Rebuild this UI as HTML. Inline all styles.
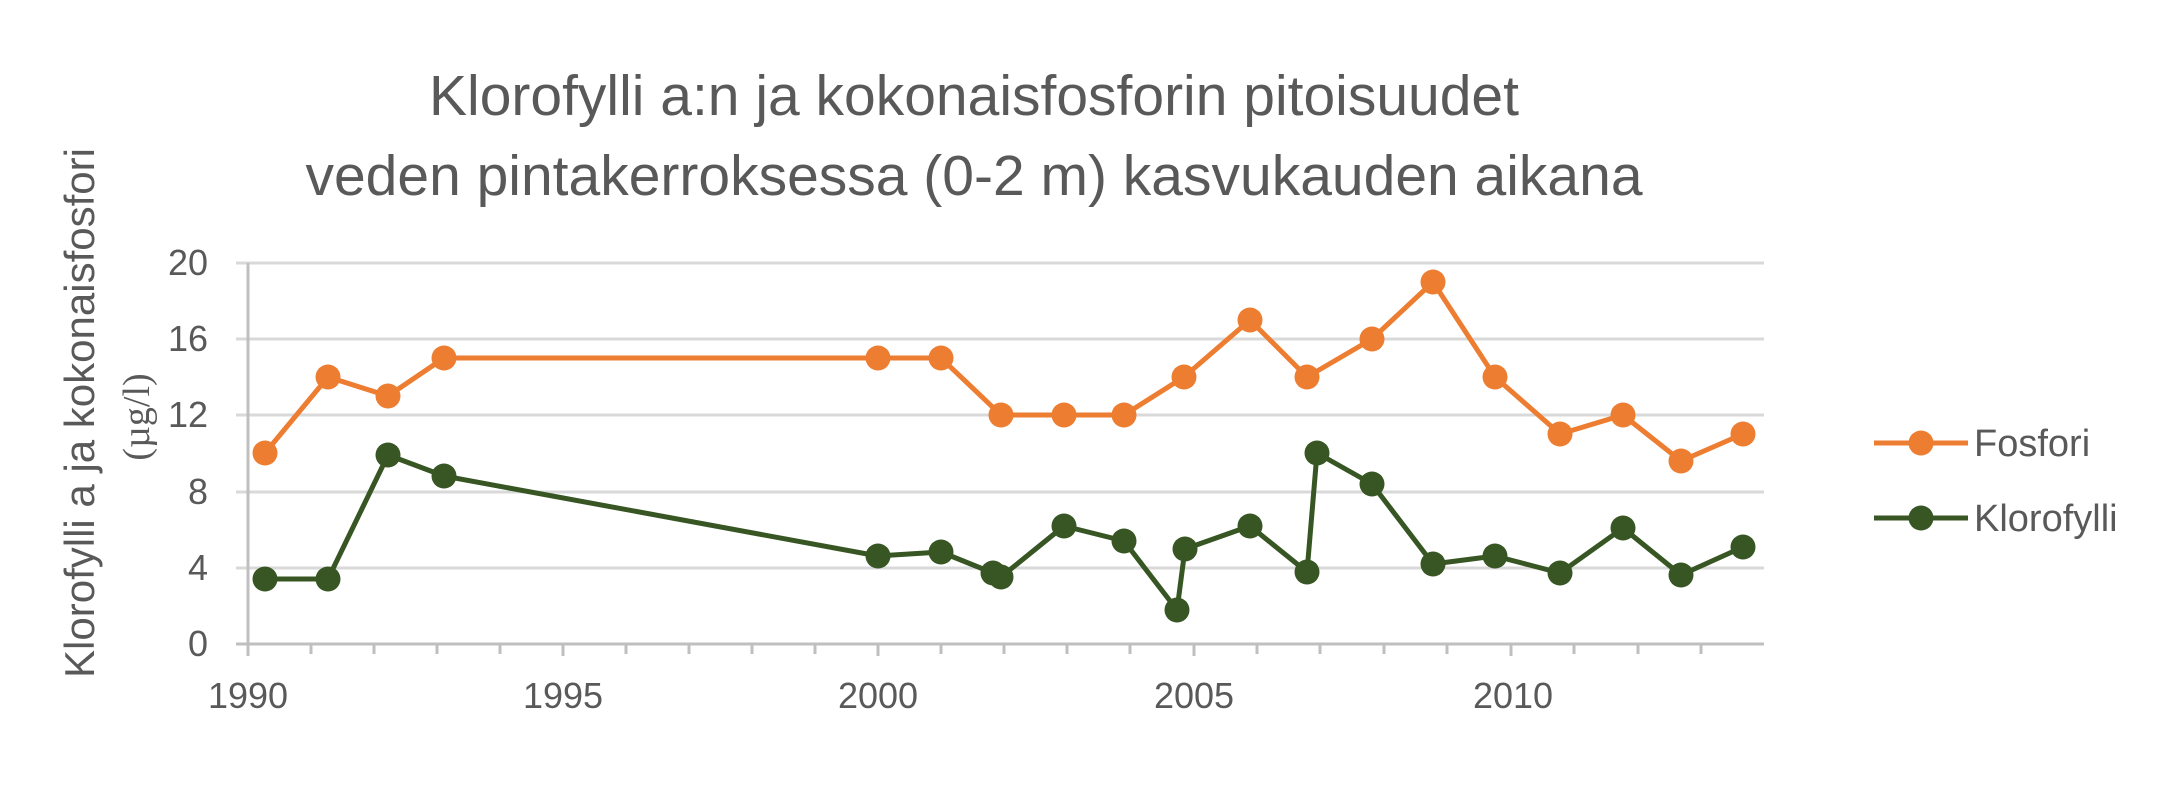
<!DOCTYPE html>
<html><head><meta charset="utf-8"><style>
html,body{margin:0;padding:0;background:#fff;}
svg{display:block;}
text{font-family:"Liberation Sans",sans-serif;fill:#595959;}
</style></head><body>
<svg width="2181" height="794" viewBox="0 0 2181 794" xmlns="http://www.w3.org/2000/svg">
<text x="974" y="115" font-size="57" text-anchor="middle">Klorofylli a:n ja kokonaisfosforin pitoisuudet</text>
<text x="974" y="195" font-size="57" text-anchor="middle">veden pintakerroksessa (0-2 m) kasvukauden aikana</text>
<g stroke="#d9d9d9" stroke-width="3">
<line x1="236" y1="263" x2="1764" y2="263"/>
<line x1="236" y1="339" x2="1764" y2="339"/>
<line x1="236" y1="415" x2="1764" y2="415"/>
<line x1="236" y1="492" x2="1764" y2="492"/>
<line x1="236" y1="568" x2="1764" y2="568"/>
</g>
<g stroke="#bfbfbf" stroke-width="3">
<line x1="236" y1="644" x2="1764" y2="644"/>
<line x1="248" y1="263" x2="248" y2="656"/>
<line x1="311" y1="644" x2="311" y2="654"/><line x1="374" y1="644" x2="374" y2="654"/><line x1="437" y1="644" x2="437" y2="654"/><line x1="500" y1="644" x2="500" y2="654"/><line x1="563" y1="644" x2="563" y2="656"/><line x1="626" y1="644" x2="626" y2="654"/><line x1="689" y1="644" x2="689" y2="654"/><line x1="752" y1="644" x2="752" y2="654"/><line x1="815" y1="644" x2="815" y2="654"/><line x1="878" y1="644" x2="878" y2="656"/><line x1="941" y1="644" x2="941" y2="654"/><line x1="1004" y1="644" x2="1004" y2="654"/><line x1="1067" y1="644" x2="1067" y2="654"/><line x1="1130" y1="644" x2="1130" y2="654"/><line x1="1194" y1="644" x2="1194" y2="656"/><line x1="1257" y1="644" x2="1257" y2="654"/><line x1="1320" y1="644" x2="1320" y2="654"/><line x1="1384" y1="644" x2="1384" y2="654"/><line x1="1447" y1="644" x2="1447" y2="654"/><line x1="1511" y1="644" x2="1511" y2="656"/><line x1="1574" y1="644" x2="1574" y2="654"/><line x1="1638" y1="644" x2="1638" y2="654"/><line x1="1701" y1="644" x2="1701" y2="654"/>
</g>
<g font-size="36" text-anchor="end">
<text x="208" y="275">20</text><text x="208" y="351">16</text><text x="208" y="427">12</text><text x="208" y="504">8</text><text x="208" y="580">4</text><text x="208" y="656">0</text>
</g>
<g font-size="36" text-anchor="middle">
<text x="248" y="708">1990</text><text x="563" y="708">1995</text><text x="878" y="708">2000</text><text x="1194" y="708">2005</text><text x="1513" y="708">2010</text>
</g>
<text transform="translate(94,413) rotate(-90)" font-size="42" text-anchor="middle">Klorofylli a ja kokonaisfosfori</text>
<text transform="translate(149,417) rotate(-90)" font-size="38" text-anchor="middle" style="font-family:'Liberation Serif',serif">(µg/l)</text>
<g fill="none" stroke-width="5" stroke-linejoin="round">
<polyline stroke="#ED7D31" points="265,453 328,377 388,396 444,358 878,358 941,358 1001,415 1064,415 1124,415 1184,377 1250,320 1307,377 1372,339 1433,282 1495,377 1560,434 1623,415 1681,461 1743,434"/>
<polyline stroke="#375623" points="265,579 328,579 388,455 444,476 878,556 941,552 993,573 1001,577 1064,526 1124,541 1177,610 1185,549 1250,526 1307,572 1317,453 1372,484 1433,564 1495,556 1560,573 1623,528 1681,575 1743,547"/>
</g>
<g fill="#ED7D31">
<circle cx="265" cy="453" r="12.5"/><circle cx="328" cy="377" r="12.5"/><circle cx="388" cy="396" r="12.5"/><circle cx="444" cy="358" r="12.5"/><circle cx="878" cy="358" r="12.5"/><circle cx="941" cy="358" r="12.5"/><circle cx="1001" cy="415" r="12.5"/><circle cx="1064" cy="415" r="12.5"/><circle cx="1124" cy="415" r="12.5"/><circle cx="1184" cy="377" r="12.5"/><circle cx="1250" cy="320" r="12.5"/><circle cx="1307" cy="377" r="12.5"/><circle cx="1372" cy="339" r="12.5"/><circle cx="1433" cy="282" r="12.5"/><circle cx="1495" cy="377" r="12.5"/><circle cx="1560" cy="434" r="12.5"/><circle cx="1623" cy="415" r="12.5"/><circle cx="1681" cy="461" r="12.5"/><circle cx="1743" cy="434" r="12.5"/>
</g>
<g fill="#375623">
<circle cx="265" cy="579" r="12.5"/><circle cx="328" cy="579" r="12.5"/><circle cx="388" cy="455" r="12.5"/><circle cx="444" cy="476" r="12.5"/><circle cx="878" cy="556" r="12.5"/><circle cx="941" cy="552" r="12.5"/><circle cx="993" cy="573" r="12.5"/><circle cx="1001" cy="577" r="12.5"/><circle cx="1064" cy="526" r="12.5"/><circle cx="1124" cy="541" r="12.5"/><circle cx="1177" cy="610" r="12.5"/><circle cx="1185" cy="549" r="12.5"/><circle cx="1250" cy="526" r="12.5"/><circle cx="1307" cy="572" r="12.5"/><circle cx="1317" cy="453" r="12.5"/><circle cx="1372" cy="484" r="12.5"/><circle cx="1433" cy="564" r="12.5"/><circle cx="1495" cy="556" r="12.5"/><circle cx="1560" cy="573" r="12.5"/><circle cx="1623" cy="528" r="12.5"/><circle cx="1681" cy="575" r="12.5"/><circle cx="1743" cy="547" r="12.5"/>
</g>
<line x1="1874" y1="443" x2="1968" y2="443" stroke="#ED7D31" stroke-width="5"/>
<circle cx="1921" cy="443" r="12.5" fill="#ED7D31"/>
<text x="1974" y="456" font-size="38">Fosfori</text>
<line x1="1874" y1="518" x2="1968" y2="518" stroke="#375623" stroke-width="5"/>
<circle cx="1921" cy="518" r="12.5" fill="#375623"/>
<text x="1974" y="531" font-size="38">Klorofylli</text>
</svg>
</body></html>
